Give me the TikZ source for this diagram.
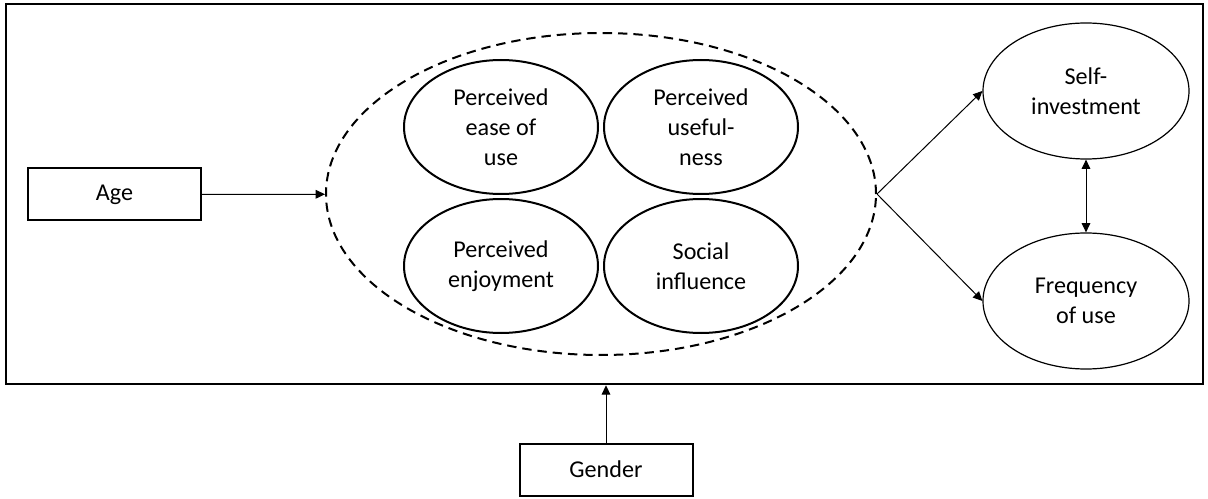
\documentclass[tikz,border=0pt]{standalone}
\usepackage{fontspec}
\setmainfont{Carlito}
\usetikzlibrary{arrows.meta,positioning,shapes.geometric}

\begin{document}
\begin{tikzpicture}[x=0.75pt, y=-0.75pt, >={Triangle[length=7pt,width=6.5pt]}, every node/.style={font=\fontsize{18.1}{22.5}\selectfont}, box/.style={draw, line width=1.5pt, minimum width=129.75pt, minimum height=39pt}, factor/.style={ellipse, draw, line width=1.5pt, align=center, inner sep=0pt, minimum width=145.5pt, minimum height=100.5pt}, outcome/.style={ellipse, draw, line width=0.9pt, align=center, inner sep=0pt, minimum width=154.5pt, minimum height=102pt}, link/.style={->, line width=0.75pt}]
\useasboundingbox (0,0) rectangle (1208,499);
\node[draw, line width=1.9pt, minimum width=897.75pt, minimum height=285pt] (frame) at (604.5,194) {};
\node[box] (age) at (114.5,194.5) {Age};
\node[ellipse, draw, dashed, dash pattern=on 7pt off 4.5pt, line width=1.5pt, minimum width=412.5pt, minimum height=241.5pt] (group) at (601,194) {};
\node[factor] (peou) at (501,127) {Perceived\\ease of\\use};
\node[factor] (pu) at (701,127) {Perceived\\useful-\\ness};
\node[factor] (pe) at (501,266) {Perceived\\enjoyment};
\node[factor] (si) at (701,266) {Social\\influence};
\node[outcome] (self) at (1086,91) {Self-\\investment};
\node[outcome] (freq) at (1086,301) {Frequency\\of use};
\node[box] (gender) at (606,469.5) {Gender};
\draw[link] (age) -- (group);
\draw[link] (group.east) -- (self.west);
\draw[link] (group.east) -- (freq.west);
\draw[link, <->] (self) -- (freq);
\draw[link] (gender) -- (gender |- frame.south);
\end{tikzpicture}
\end{document}
